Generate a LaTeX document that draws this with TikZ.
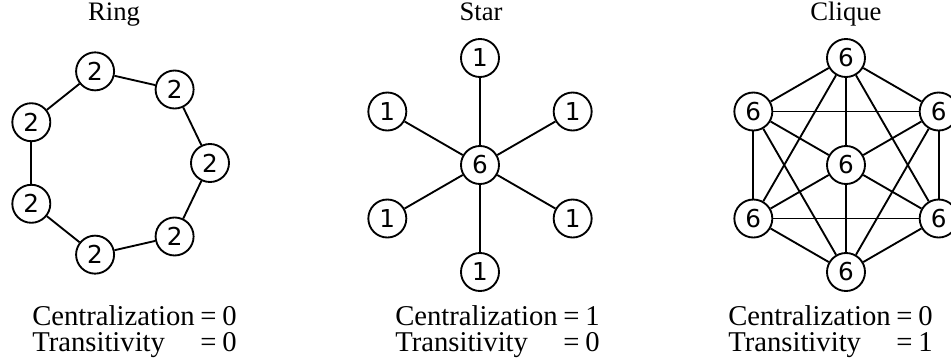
\documentclass[tikz,border=0pt]{standalone}
\usepackage{fontspec}
\setmainfont{Liberation Serif}
\newfontfamily\degreefont{DejaVu Sans}
\usetikzlibrary{calc}

\begin{document}
\begin{tikzpicture}[
    x=0.75pt, y=-0.75pt,
    vertex/.style={
      circle, draw, fill=white, line width=1.4pt,
      minimum size=28.5pt, inner sep=0pt,
      font=\degreefont\fontsize{18.5}{18.5}\selectfont
    },
    edge/.style={line width=1.4pt},
    title/.style={anchor=base, font=\fontsize{20}{22}\selectfont},
    stat/.style={anchor=base west, inner sep=0pt, font=\fontsize{21.5}{18.75}\selectfont}
  ]
  \useasboundingbox (0,0) rectangle (951,362);

  \def\ringRadius{94}
  \def\starRadius{107}
  \newcommand{\statTable}[2]{%
    \begin{tabular}[t]{@{}l@{\hspace{0.2em}}l@{}}
      Centralization & =\hspace{0.2em}#1\\
      Transitivity   & =\hspace{0.2em}#2
    \end{tabular}}

  % Ring
  \node[title] (ringTitle) at (114,20) {Ring};
  \foreach \i in {0,...,6}
    \node[vertex] (r\i) at ($(116,163)+({\i*360/7}:\ringRadius)$) {2};
  \foreach \i in {0,...,6} {
    \pgfmathtruncatemacro\j{mod(\i+1,7)}
    \draw[edge] (r\i) -- (r\j);
  }

  % Star
  \node[title] (starTitle) at (481,20) {Star};
  \node[vertex] (sc) at (480,165) {6};
  \foreach \i in {0,...,5} {
    \node[vertex] (s\i) at ($(sc)+({90+\i*60}:\starRadius)$) {1};
    \draw[edge] (sc) -- (s\i);
  }

  % Clique
  \node[title] (cliqueTitle) at (846,20) {Clique};
  \node[vertex] (cc) at (846,165) {6};
  \foreach \i in {0,...,5}
    \node[vertex] (c\i) at ($(cc)+({90+\i*60}:\starRadius)$) {6};
  \foreach \i in {0,...,5} {
    \draw[edge] (cc) -- (c\i);
    \foreach \j in {0,...,5} {
      % opposite pairs already run through the centre
      \pgfmathtruncatemacro\d{\j-\i}
      \ifnum\d>0 \ifnum\d=3 \else
        \draw[edge] (c\i) -- (c\j);
      \fi\fi
    }
  }

  % Labels
  \node[stat] (ringStat) at (32,325) {\statTable{0}{0}};
  \node[stat] (starStat) at (395,325) {\statTable{1}{0}};
  \node[stat] (cliqueStat) at (728,325) {\statTable{0}{1}};
\end{tikzpicture}
\end{document}
